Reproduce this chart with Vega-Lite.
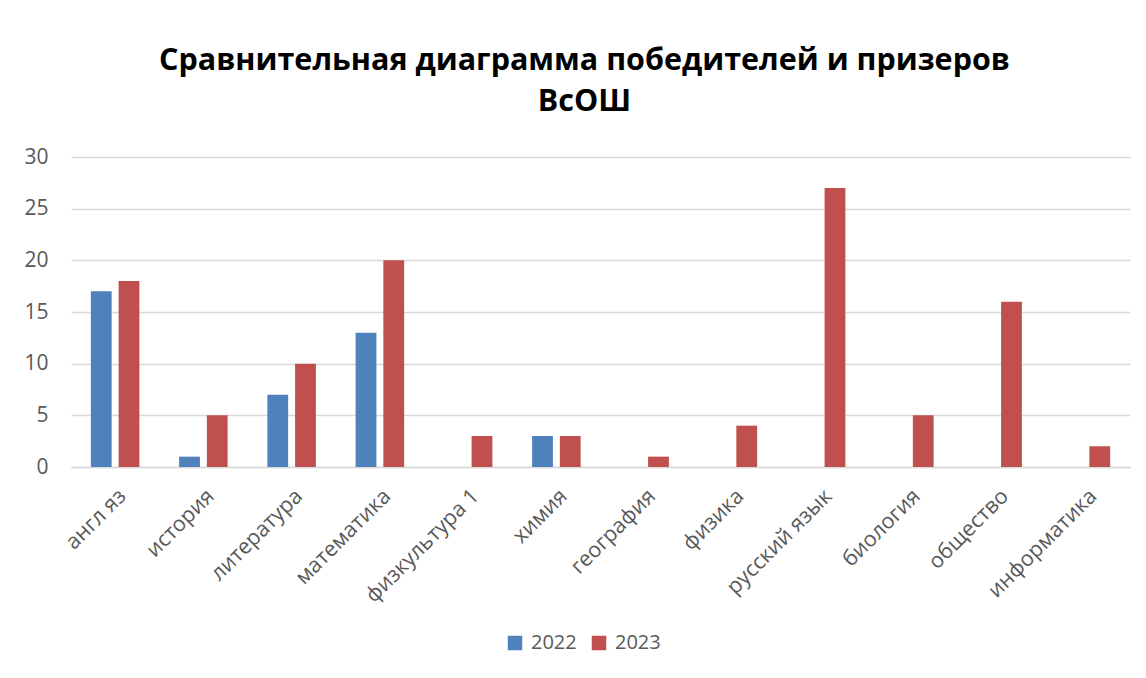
{
  "$schema": "https://vega.github.io/schema/vega-lite/v6.json",
  "autosize": {"type": "none"},
  "padding": {"left": 71, "top": 157, "right": 16, "bottom": 211},
  "width": 1059,
  "height": 310,
  "background": "white",
  "title": {
    "text": ["Сравнительная диаграмма победителей и призеров", "ВсОШ"],
    "font": "Open Sans",
    "fontSize": 30.5,
    "fontWeight": "bold",
    "color": "#000000",
    "lineHeight": 41,
    "anchor": "middle",
    "dx": -16,
    "offset": 29
  },
  "data": {
    "values": [
      {"subject": "англ яз", "year": "2022", "value": 17},
      {"subject": "англ яз", "year": "2023", "value": 18},
      {"subject": "история", "year": "2022", "value": 1},
      {"subject": "история", "year": "2023", "value": 5},
      {"subject": "литература", "year": "2022", "value": 7},
      {"subject": "литература", "year": "2023", "value": 10},
      {"subject": "математика", "year": "2022", "value": 13},
      {"subject": "математика", "year": "2023", "value": 20},
      {"subject": "физкультура 1", "year": "2022", "value": 0},
      {"subject": "физкультура 1", "year": "2023", "value": 3},
      {"subject": "химия", "year": "2022", "value": 3},
      {"subject": "химия", "year": "2023", "value": 3},
      {"subject": "география", "year": "2022", "value": 0},
      {"subject": "география", "year": "2023", "value": 1},
      {"subject": "физика", "year": "2022", "value": 0},
      {"subject": "физика", "year": "2023", "value": 4},
      {"subject": "русский язык", "year": "2022", "value": 0},
      {"subject": "русский язык", "year": "2023", "value": 27},
      {"subject": "биология", "year": "2022", "value": 0},
      {"subject": "биология", "year": "2023", "value": 5},
      {"subject": "общество", "year": "2022", "value": 0},
      {"subject": "общество", "year": "2023", "value": 16},
      {"subject": "информатика", "year": "2022", "value": 0},
      {"subject": "информатика", "year": "2023", "value": 2}
    ]
  },
  "mark": {"type": "bar"},
  "encoding": {
    "x": {
      "field": "subject",
      "type": "nominal",
      "sort": null,
      "title": null,
      "scale": {"paddingInner": 0.45, "paddingOuter": 0.225},
      "axis": {
        "labelAngle": -45,
        "labelFont": "Open Sans",
        "labelFontSize": 21.5,
        "labelColor": "#595959",
        "labelPadding": 18,
        "ticks": false,
        "domainColor": "#d9d9d9",
        "domainWidth": 1.5,
        "grid": false
      }
    },
    "xOffset": {
      "field": "year",
      "type": "nominal",
      "scale": {"paddingInner": 0.25, "paddingOuter": 0}
    },
    "y": {
      "field": "value",
      "type": "quantitative",
      "title": null,
      "scale": {"domain": [0, 30], "nice": false},
      "axis": {
        "values": [0, 5, 10, 15, 20, 25, 30],
        "labelFont": "Open Sans",
        "labelFontSize": 21,
        "labelColor": "#595959",
        "labelPadding": 23,
        "ticks": false,
        "domain": false,
        "gridColor": "#d9d9d9",
        "gridWidth": 1.5
      }
    },
    "color": {
      "field": "year",
      "type": "nominal",
      "title": null,
      "scale": {"domain": ["2022", "2023"], "range": ["#4F81BD", "#C0504D"]},
      "legend": {
        "orient": "none",
        "direction": "horizontal",
        "legendX": 434,
        "legendY": 476,
        "symbolType": "square",
        "symbolSize": 210,
        "symbolStrokeWidth": 0,
        "labelFont": "Open Sans",
        "labelFontSize": 20,
        "labelColor": "#595959",
        "columnPadding": 12,
        "labelOffset": 6
      }
    }
  },
  "config": {
    "view": {"stroke": null}
  }
}
